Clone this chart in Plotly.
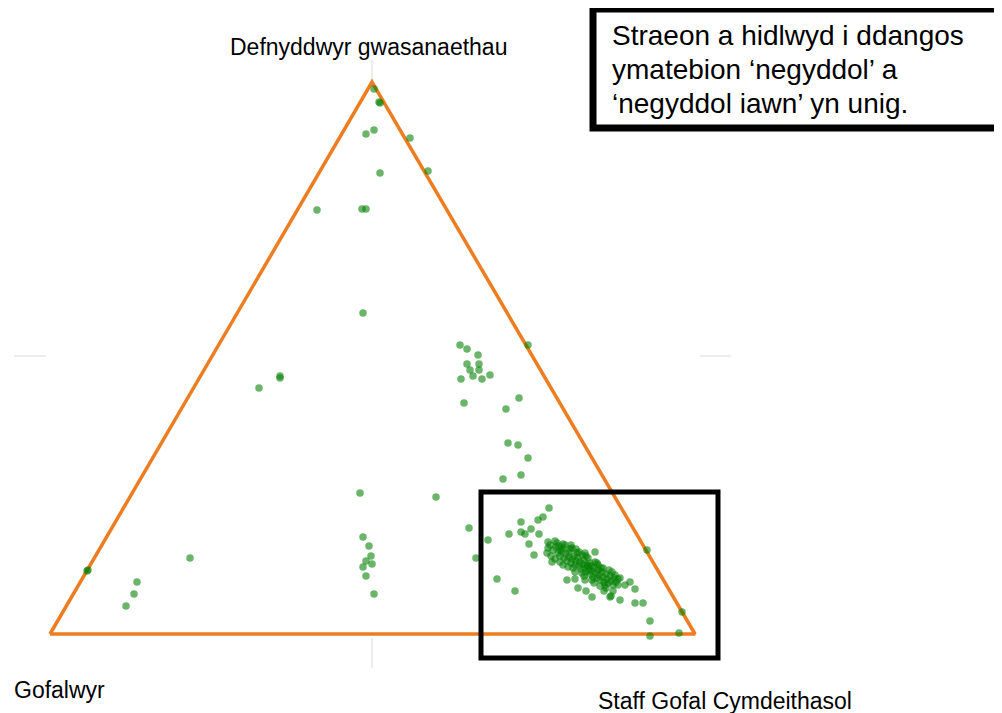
import plotly.graph_objects as go

# point positions, in units along the triangle base (base = 0..645)
pts_x = [324, 329, 330, 316, 324, 360, 330, 378, 267, 312, 316,
         313, 478, 209, 230, 230,
         410, 417, 428, 417, 429, 420, 429, 423, 440, 411, 432,
         414, 469, 456, 458, 468, 478, 471, 453,
         310, 140, 37, 38, 87, 84, 76, 313, 319, 321, 316, 322, 313, 316, 324, 386,
         419, 426, 438, 447, 465, 459, 471, 471, 475, 481, 488, 493, 499, 489, 479, 484,
         545, 528, 536, 542, 554, 560, 561, 563, 570, 568, 575, 580, 585, 585, 593,
         600, 600, 629, 632, 597,
         498, 513, 497, 502, 510, 522, 535, 517, 525,
         500, 503, 506, 508, 510, 512, 514, 516, 517, 519, 521, 522, 524, 525, 526,
         528, 529, 530, 531, 533, 534, 535, 536, 537, 539, 540, 541, 542, 543, 544,
         546, 547, 548, 549, 550, 552, 553, 554, 556, 557, 558, 560, 561, 563, 564,
         566, 553, 545, 538, 527, 520, 515, 532, 540, 548, 555, 562, 570, 510, 518,
         525, 534, 542, 550, 507, 513, 526, 536,
         498, 501, 505, 509, 513, 519, 523, 529, 532, 538, 544, 547, 551, 556, 559,
         565, 568, 505, 521, 535]
pts_y = [545, 532, 531, 500, 504, 496, 461, 463, 424, 425, 425,
         321, 289, 246, 258, 256,
         289, 285, 279, 270, 270, 264, 264, 258, 259, 255, 255,
         231, 236, 225, 191, 189, 176, 159, 155,
         141, 76, 63, 64, 52, 40, 28, 97, 88, 78, 73, 70, 67, 58, 40, 137,
         106, 76, 94, 55, 43, 100, 112, 102, 100, 105, 114, 117, 126, 100, 90, 79,
         82, 46, 43, 37, 43, 37, 38, 43, 34, 55, 49, 52, 45, 31, 31,
         13, -2, 1, 22, 84,
         92, 90, 81, 72, 84, 86, 81, 54, 55,
         89, 84, 87, 81, 78, 83, 76, 80, 73, 77, 71, 75, 78, 69, 73,
         76, 68, 72, 65, 70, 74, 66, 62, 69, 64, 60, 68, 63, 57, 66,
         61, 56, 64, 59, 54, 62, 57, 52, 60, 55, 51, 58, 53, 49, 56,
         52, 66, 72, 76, 81, 85, 89, 79, 71, 69, 49, 62, 56, 72, 67,
         62, 58, 54, 48, 91, 86, 85, 78,
         86, 78, 93, 88, 69, 82, 66, 82, 61, 68, 51, 71, 66, 46, 64,
         59, 49, 75, 89, 54]

# triangle corners: Gofalwyr, Defnyddwyr gwasanaethau, Staff Gofal Cymdeithasol
tri_x = [0, 322, 645, 0]
tri_y = [0, 552, 0, 0]

corner_labels = ["Defnyddwyr gwasanaethau", "Gofalwyr", "Staff Gofal Cymdeithasol"]
note_lines = ["Straeon a hidlwyd i ddangos",
              "ymatebion \u2018negyddol\u2019 a",
              "\u2018negyddol iawn\u2019 yn unig."]

FONT = "Liberation Sans, Arial, sans-serif"
ORANGE = "#EE7D22"
GREEN = "rgb(0,128,0)"
STUB = "#ececec"

fig = go.Figure()

fig.add_trace(go.Scatter(
    x=tri_x, y=tri_y, mode="lines",
    line=dict(color=ORANGE, width=3.5),
    hoverinfo="skip"
))

fig.add_trace(go.Scatter(
    x=pts_x, y=pts_y, mode="markers",
    marker=dict(size=7.5, color=GREEN, opacity=0.58, line=dict(width=0))
))

# faint axis stubs left over outside the triangle
for x0, y0, x1, y1 in [(-36, 278, -4, 278), (650, 278, 681, 278),
                       (322, 574, 322, 552), (322, -4, 322, -34)]:
    fig.add_shape(type="line", x0=x0, y0=y0, x1=x1, y1=y1,
                  line=dict(color=STUB, width=2), layer="below")

# highlight box round the main cluster
fig.add_shape(type="rect", x0=431, y0=-24, x1=668, y1=142,
              line=dict(color="black", width=5))

# note box
fig.add_shape(type="rect", x0=543, y0=506, x1=948, y1=625,
              line=dict(color="black", width=7), fillcolor="white")
for i, line in enumerate(note_lines):
    fig.add_annotation(x=560, y=599 - 34 * i, text=line, showarrow=False,
                       xanchor="left", yanchor="middle",
                       font=dict(family=FONT, size=28, color="black"))

fig.add_annotation(x=318, y=587, text=corner_labels[0], showarrow=False,
                   xanchor="center", yanchor="middle",
                   font=dict(family=FONT, size=23, color="black"))
fig.add_annotation(x=-38, y=-56, text=corner_labels[1], showarrow=False,
                   xanchor="left", yanchor="middle",
                   font=dict(family=FONT, size=23, color="black"))
fig.add_annotation(x=546, y=-67, text=corner_labels[2], showarrow=False,
                   xanchor="left", yanchor="middle",
                   font=dict(family=FONT, size=23, color="black"))

# the page body has an 8px margin, so the figure is 8px smaller and the
# ranges start 8 units in
fig.update_layout(
    width=994, height=705,
    margin=dict(l=0, r=0, t=0, b=0),
    showlegend=False,
    plot_bgcolor="white", paper_bgcolor="white",
    xaxis=dict(range=[-42, 952], visible=False, fixedrange=True),
    yaxis=dict(range=[-79, 626], visible=False, fixedrange=True),
)

fig.write_html("out.html")
